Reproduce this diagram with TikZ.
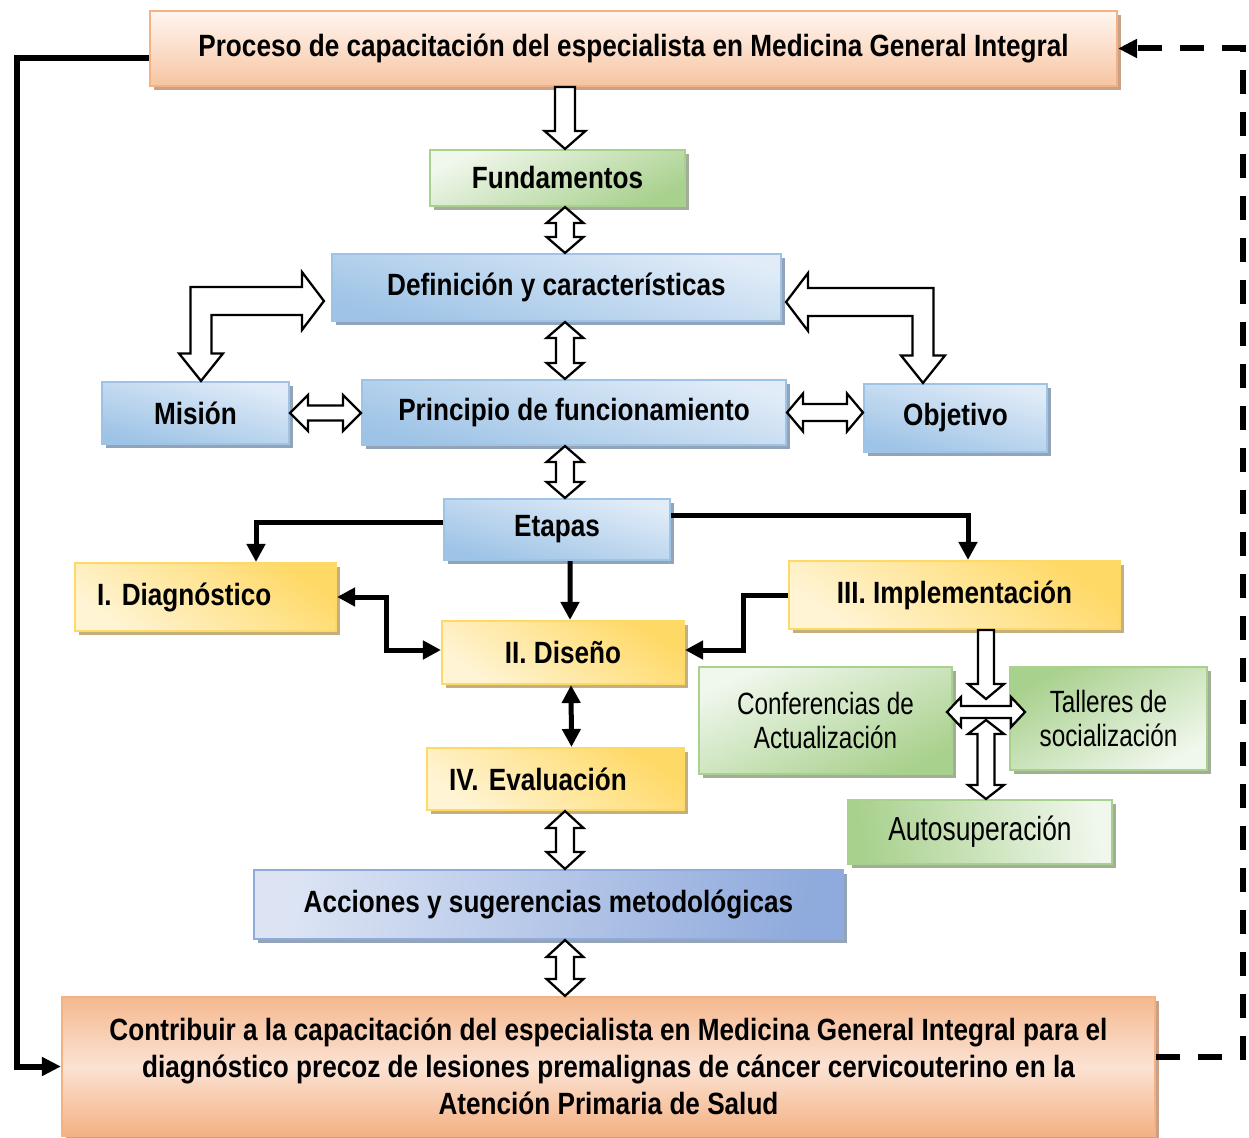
\documentclass[tikz,border=0pt]{standalone}
\usepackage{fontspec}
\setmainfont{Liberation Sans}[FakeStretch=0.85]
\newfontfamily\narrowreg{Liberation Sans}[FakeStretch=0.79]
\usetikzlibrary{arrows.meta,shadows,calc}

\definecolor{orangeL}{HTML}{FFF6F1}
\definecolor{orangeM}{HTML}{FBE2D3}
\definecolor{orangeD}{HTML}{F4B183}
\definecolor{orangeS}{HTML}{C9A189}
\definecolor{greenL}{HTML}{F0F7EC}
\definecolor{greenD}{HTML}{A9D18E}
\definecolor{greenS}{HTML}{A3AE98}
\definecolor{blueL}{HTML}{E1ECF8}
\definecolor{blueD}{HTML}{9DC3E6}
\definecolor{blueS}{HTML}{93A3B8}
\definecolor{navyL}{HTML}{DCE4F4}
\definecolor{navyD}{HTML}{8FAADC}
\definecolor{yellowL}{HTML}{FFF4D4}
\definecolor{yellowD}{HTML}{FFD966}
\definecolor{yellowS}{HTML}{C4B07C}

\tikzset{
  box/.style={line width=1.2pt, inner sep=0pt, align=center,
    font=\fontsize{17.5}{21}\selectfont\bfseries\frenchspacing},
  lighttext/.style={font=\fontsize{17.5}{19.5}\selectfont\narrowreg},
  orangebox/.style={box, draw=orangeD, top color=orangeL, bottom color=orangeD!75,
    drop shadow={shadow xshift=0.08cm, shadow yshift=-0.08cm, fill=orangeS, opacity=1}},
  orangebox2/.style={box, draw=orangeD, top color=orangeD!90, bottom color=orangeD,
    middle color=orangeM,
    drop shadow={shadow xshift=0.08cm, shadow yshift=-0.08cm, fill=orangeS, opacity=1}},
  greenbox/.style={box, draw=greenD, top color=greenL, bottom color=greenD, shading angle=25,
    drop shadow={shadow xshift=0.08cm, shadow yshift=-0.08cm, fill=greenS, opacity=1}},
  bluebox/.style={box, draw=blueD, top color=blueL, bottom color=blueD, shading angle=-15,
    drop shadow={shadow xshift=0.08cm, shadow yshift=-0.08cm, fill=blueS, opacity=1}},
  navybox/.style={box, draw=navyD, left color=navyL, right color=navyD, shading angle=80,
    drop shadow={shadow xshift=0.08cm, shadow yshift=-0.08cm, fill=blueS, opacity=1}},
  yellowbox/.style={box, draw=yellowD, top color=yellowD, bottom color=yellowL, shading angle=-35,
    drop shadow={shadow xshift=0.08cm, shadow yshift=-0.08cm, fill=yellowS, opacity=1}},
  blockarr/.style={draw=black, fill=white, line width=1.3pt, line join=miter},
  conn/.style={line width=0.1cm, -{Triangle[length=0.36cm,width=0.36cm]}},
  conn2/.style={line width=0.1cm, {Triangle[length=0.36cm,width=0.36cm]}-{Triangle[length=0.36cm,width=0.36cm]}},
  loopline/.style={line width=0.12cm, -{Triangle[length=0.38cm,width=0.36cm]}}
}

% hollow block arrows, built between two points
\newcommand{\vdbl}[5]{%
  \draw[blockarr] let \p1=(#1), \p2=(#2) in
    (\x1,\y1) -- (\x1+#3,\y1-#5) -- (\x1+#4,\y1-#5) -- (\x1+#4,\y2+#5)
    -- (\x1+#3,\y2+#5) -- (\x1,\y2) -- (\x1-#3,\y2+#5) -- (\x1-#4,\y2+#5)
    -- (\x1-#4,\y1-#5) -- (\x1-#3,\y1-#5) -- cycle;}
\newcommand{\hdbl}[5]{%
  \draw[blockarr] let \p1=(#1), \p2=(#2) in
    (\x1,\y1) -- (\x1+#5,\y1+#3) -- (\x1+#5,\y1+#4) -- (\x2-#5,\y1+#4)
    -- (\x2-#5,\y1+#3) -- (\x2,\y1) -- (\x2-#5,\y1-#3) -- (\x2-#5,\y1-#4)
    -- (\x1+#5,\y1-#4) -- (\x1+#5,\y1-#3) -- cycle;}
\newcommand{\vsgl}[5]{%
  \draw[blockarr] let \p1=(#1), \p2=(#2) in
    (\x1-#4,\y1) -- (\x1+#4,\y1) -- (\x1+#4,\y2+#5) -- (\x1+#3,\y2+#5)
    -- (\x1,\y2) -- (\x1-#3,\y2+#5) -- (\x1-#4,\y2+#5) -- cycle;}
\newcommand{\bent}[3]{%
  \draw[blockarr] let \p1=(#1), \p2=(#2) in
    (\x1,\y1) -- (\x1+#3*0.44cm,\y1+0.58cm) -- (\x1+#3*0.44cm,\y1+0.28cm)
    -- (\x2+#3*0.21cm,\y1+0.28cm) -- (\x2+#3*0.21cm,\y2+0.55cm) -- (\x2+#3*0.44cm,\y2+0.55cm)
    -- (\x2,\y2) -- (\x2-#3*0.44cm,\y2+0.55cm) -- (\x2-#3*0.21cm,\y2+0.55cm)
    -- (\x2-#3*0.21cm,\y1-0.28cm) -- (\x1+#3*0.44cm,\y1-0.28cm) -- (\x1+#3*0.44cm,\y1-0.58cm) -- cycle;}

\begin{document}
\begin{tikzpicture}
\useasboundingbox (0,0) rectangle (24.98,-22.76);
\coordinate (spine) at (11.30,0);
\coordinate (hub) at (19.72,-14.24);
\coordinate (lrail) at (0.34,0);
\coordinate (rrail) at (24.86,0);

% boxes
\node[orangebox, minimum width=19.34cm, minimum height=1.5cm] (proceso) at (12.67,-0.97)
  {Proceso de capacitación del especialista en Medicina General Integral};
\node[greenbox, minimum width=5.10cm, minimum height=1.12cm] (fund) at (11.15,-3.56) {Fundamentos};
\node[bluebox, minimum width=8.98cm, minimum height=1.34cm] (defin) at (11.13,-5.75) {Definición y características};
\node[bluebox, minimum width=3.74cm, minimum height=1.24cm] (mision) at (3.91,-8.26) {Misión};
\node[bluebox, minimum width=8.48cm, minimum height=1.30cm] (princ) at (11.48,-8.25) {Principio de funcionamiento};
\node[bluebox, minimum width=3.66cm, minimum height=1.36cm] (obj) at (19.11,-8.36) {Objetivo};
\node[bluebox, minimum width=4.52cm, minimum height=1.22cm] (etapas) at (11.14,-10.59) {Etapas};
\node[yellowbox, text width=4.34cm, inner xsep=0.44cm, align=left, minimum height=1.36cm] (diag) at (4.11,-11.94) {I. Diagnóstico};
\node[yellowbox, minimum width=4.84cm, minimum height=1.26cm] (diseno) at (11.26,-13.05) {II. Diseño};
\node[yellowbox, minimum width=6.62cm, minimum height=1.36cm] (impl) at (19.09,-11.90) {III. Implementación};
\node[greenbox, lighttext, minimum width=5.06cm, minimum height=2.14cm] (conf) at (16.51,-14.41) {Conferencias de\\Actualización};
\node[greenbox, lighttext, shading angle=-150, minimum width=3.94cm, minimum height=2.06cm] (talleres) at (22.17,-14.37) {Talleres de\\socialización};
\node[greenbox, lighttext, font=\fontsize{19}{21}\selectfont\narrowreg, shading angle=-80, minimum width=5.28cm, minimum height=1.28cm] (auto) at (19.60,-16.64) {Autosuperación};
\node[yellowbox, text width=4.26cm, inner xsep=0.44cm, align=left, minimum height=1.24cm] (eval) at (11.11,-15.58) {IV. Evaluación};
\node[navybox, minimum width=11.78cm, minimum height=1.38cm] (acciones) at (10.97,-18.09) {Acciones y sugerencias metodológicas};
\node[orangebox2, minimum width=21.86cm, minimum height=2.78cm] (contrib) at (12.17,-21.33)
  {Contribuir a la capacitación del especialista en Medicina General Integral para el\\
   diagnóstico precoz de lesiones premalignas de cáncer cervicouterino en la\\
   Atención Primaria de Salud};

% stages
\draw[conn] ([yshift=0.15cm]etapas.west) -| ([xshift=1.01cm]diag.north);
\draw[conn] ([yshift=0.29cm]etapas.east) -| ([xshift=0.27cm]impl.north);
\draw[conn] ([xshift=0.26cm]etapas.south) -- ([xshift=0.14cm]diseno.north);
\draw[conn2] (diag.east) -- ++(0.98,0) |- ([yshift=0.05cm]diseno.west);
\draw[conn] (impl.west) -- ++(-0.88,0) |- ([yshift=0.05cm]diseno.east);
\draw[conn2] ([xshift=0.16cm]diseno.south) -- ([xshift=0.32cm]eval.north);

% feedback
\draw[loopline] ([yshift=-0.19cm]proceso.west) -| (lrail |- contrib.west) -- (contrib.west);
\draw[loopline, dash pattern=on 0.48cm off 0.36cm] ([yshift=0.19cm]contrib.east) -| (rrail |- proceso.east) -- (proceso.east);

% block arrows
\vsgl{spine |- proceso.south}{spine |- fund.north}{0.41cm}{0.20cm}{0.36cm}
\vdbl{spine |- fund.south}{spine |- defin.north}{0.37cm}{0.18cm}{0.32cm}
\vdbl{spine |- defin.south}{spine |- princ.north}{0.37cm}{0.18cm}{0.32cm}
\vdbl{spine |- princ.south}{spine |- etapas.north}{0.37cm}{0.18cm}{0.32cm}
\vdbl{spine |- eval.south}{spine |- acciones.north}{0.37cm}{0.18cm}{0.34cm}
\vdbl{spine |- acciones.south}{spine |- contrib.north}{0.37cm}{0.18cm}{0.34cm}
\hdbl{mision.east}{princ.west}{0.36cm}{0.15cm}{0.36cm}
\hdbl{princ.east}{obj.west}{0.38cm}{0.17cm}{0.32cm}
\bent{[xshift=-0.14cm,yshift=-0.27cm]defin.west}{[xshift=0.11cm]mision.north}{-1}
\bent{[xshift=0.08cm,yshift=-0.29cm]defin.east}{[xshift=-0.65cm]obj.north}{1}
\hdbl{[xshift=-0.78cm]hub}{[xshift=0.78cm]hub}{0.30cm}{0.12cm}{0.28cm}
\vsgl{hub |- impl.south}{[yshift=0.26cm]hub}{0.36cm}{0.16cm}{0.30cm}
\vdbl{[yshift=-0.16cm]hub}{hub |- auto.north}{0.36cm}{0.17cm}{0.28cm}
\end{tikzpicture}
\end{document}
